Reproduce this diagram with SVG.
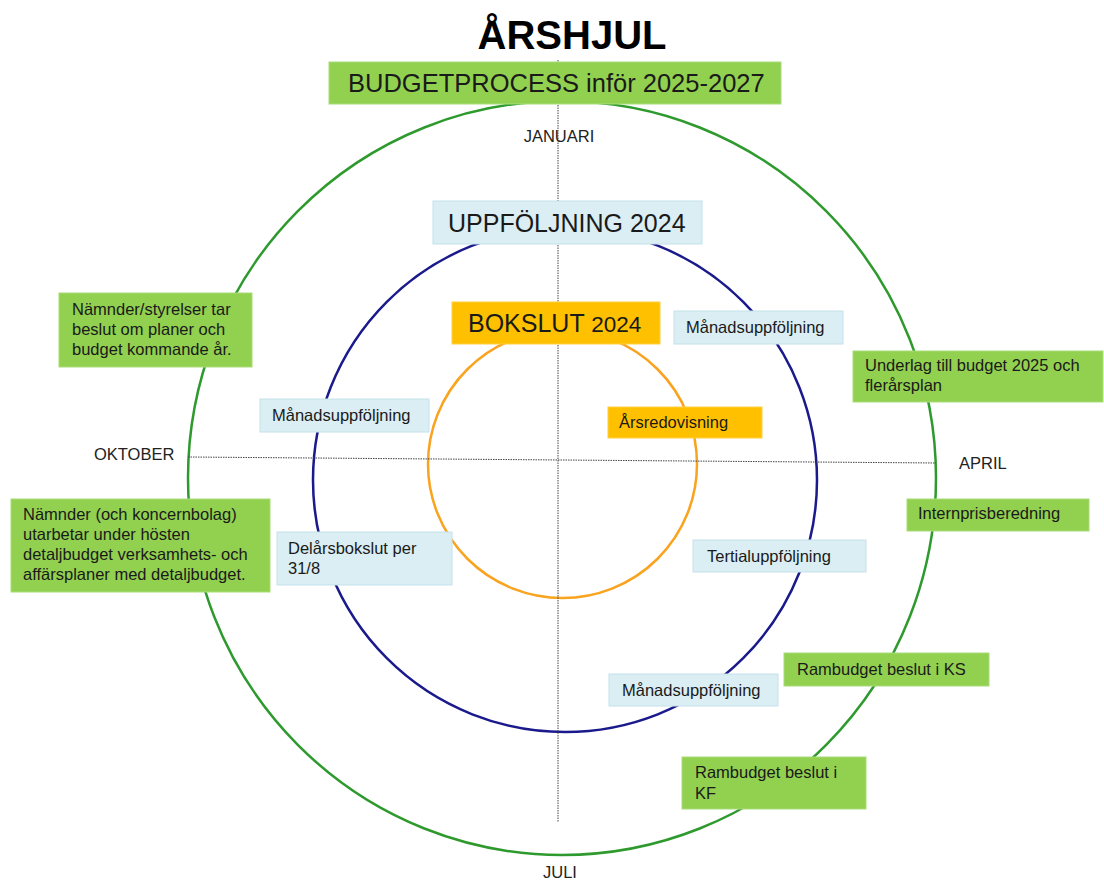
<svg xmlns="http://www.w3.org/2000/svg" width="1104" height="881" viewBox="0 0 1104 881">
<style>
text{font-family:"Liberation Sans",Arial,sans-serif;fill:#1a1a1a}
.g{fill:#92D050;stroke:#a8dc78;stroke-width:1}
.b{fill:#DAEEF3;stroke:#c4e2ea;stroke-width:1}
.o{fill:#FFC000;stroke:#ffcf40;stroke-width:1}
.t{font-size:16.5px}
.m{font-size:16.5px;fill:#222}
.axis{stroke:#444;stroke-width:1;stroke-dasharray:1.5 1;fill:none}
</style>
<g id="wheel">
<ellipse cx="562" cy="478" rx="374" ry="377" fill="none" stroke="#2E9A2E" stroke-width="2.5"/>
<circle cx="565" cy="480" r="252" fill="none" stroke="#1A1A8C" stroke-width="2.5"/>
<ellipse cx="562.5" cy="464" rx="134.5" ry="134" fill="none" stroke="#F9A31E" stroke-width="2.5"/>
</g>
<g id="connectors">
<line class="axis" x1="558" y1="60" x2="558" y2="822"/>
<line class="axis" x1="188" y1="457" x2="936" y2="463"/>
</g>
<g id="title"><text x="572" y="49" text-anchor="middle" font-size="40" font-weight="bold" style="fill:#000">ÅRSHJUL</text></g>
<g id="budgetprocess"><rect class="g" x="329" y="62" width="452" height="42"/><text x="348" y="92" font-size="25.5">BUDGETPROCESS inför 2025-2027</text></g>
<g id="uppfoljning"><rect class="b" x="433" y="201" width="269" height="43"/><text x="448" y="232" font-size="25">UPPFÖLJNING 2024</text></g>
<g id="bokslut"><rect class="o" x="452" y="302" width="208" height="42"/><text x="468" y="332" font-size="25">BOKSLUT <tspan font-size="22.5">2024</tspan></text></g>
<g id="januari"><text class="m" x="559" y="142" text-anchor="middle">JANUARI</text></g>
<g id="april"><text class="m" x="959" y="469">APRIL</text></g>
<g id="juli"><text class="m" x="543" y="878">JULI</text></g>
<g id="oktober"><text class="m" x="94" y="460">OKTOBER</text></g>
<g id="manad1"><rect class="b" x="674" y="311" width="169" height="33"/><text class="t" x="686" y="333">Månadsuppföljning</text></g>
<g id="arsredovisning"><rect class="o" x="608" y="407" width="154" height="31"/><text class="t" x="619" y="428">Årsredovisning</text></g>
<g id="manad2"><rect class="b" x="260" y="399" width="169" height="33"/><text class="t" x="272" y="421">Månadsuppföljning</text></g>
<g id="tertial"><rect class="b" x="693" y="540" width="173" height="32"/><text class="t" x="707" y="562">Tertialuppföljning</text></g>
<g id="manad3"><rect class="b" x="609" y="674" width="169" height="32"/><text class="t" x="622" y="696">Månadsuppföljning</text></g>
<g id="delars"><rect class="b" x="277" y="532" width="175" height="53"/><text class="t" x="288" y="554">Delårsbokslut per</text><text class="t" x="288" y="574">31/8</text></g>
<g id="namnder1"><rect class="g" x="59" y="293" width="193" height="74"/><text class="t" x="72" y="315">Nämnder/styrelser tar</text><text class="t" x="72" y="335">beslut om planer och</text><text class="t" x="72" y="355">budget kommande år.</text></g>
<g id="namnder2"><rect class="g" x="11" y="499" width="259" height="93"/><text class="t" x="23" y="520">Nämnder (och koncernbolag)</text><text class="t" x="23" y="540">utarbetar under hösten</text><text class="t" x="23" y="560">detaljbudget verksamhets- och</text><text class="t" x="23" y="580">affärsplaner med detaljbudget.</text></g>
<g id="underlag"><rect class="g" x="853" y="351" width="250" height="51"/><text class="t" x="865" y="371">Underlag till budget 2025 och</text><text class="t" x="865" y="391">flerårsplan</text></g>
<g id="internpris"><rect class="g" x="907" y="499" width="182" height="32"/><text class="t" x="918" y="519">Internprisberedning</text></g>
<g id="rambudgetKS"><rect class="g" x="784" y="653" width="205" height="33"/><text class="t" x="797" y="675">Rambudget beslut i KS</text></g>
<g id="rambudgetKF"><rect class="g" x="682" y="757" width="184" height="52"/><text class="t" x="695" y="778">Rambudget beslut i</text><text class="t" x="695" y="799">KF</text></g>
</svg>
